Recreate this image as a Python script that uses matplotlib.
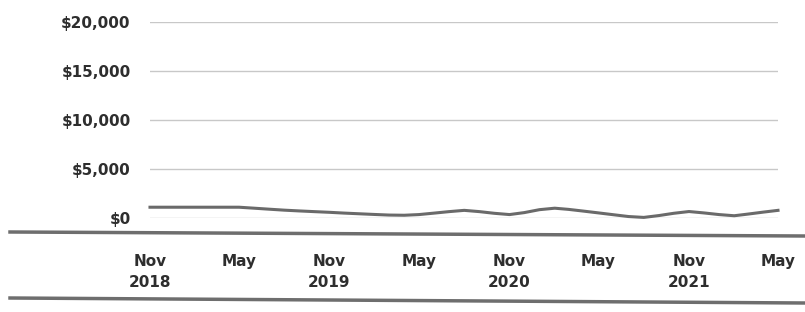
import matplotlib
matplotlib.use("Agg")
import matplotlib.pyplot as plt
from matplotlib.lines import Line2D
import pandas as pd

# Monthly dates Nov 2018 .. May 2022
dates = pd.date_range("2018-11-01", periods=43, freq="MS")
values = [1100, 1100, 1100, 1100, 1100, 1100, 1100, 1000, 900, 800, 720, 650,
          580, 500, 430, 360, 300, 280, 350, 500, 650, 780, 650, 480,
          350, 550, 850, 1000, 880, 700, 520, 330, 150, 60, 250, 480,
          660, 520, 350, 230, 400, 600, 780]

tick_dates = ["2018-11-01", "2019-05-01", "2019-11-01", "2020-05-01",
              "2020-11-01", "2021-05-01", "2021-11-01", "2022-05-01"]
tick_labels = ["Nov\n2018", "May", "Nov\n2019", "May",
               "Nov\n2020", "May", "Nov\n2021", "May"]
y_ticks = [0, 5000, 10000, 15000, 20000]
y_labels = ["$0", "$5,000", "$10,000", "$15,000", "$20,000"]

fig = plt.figure(figsize=(8.05, 3.12), dpi=100)
ax = fig.add_axes([150/805, (312-218)/312, (778-150)/805, (218-22)/312])

ax.plot(dates, values, color="#6a6a6a", lw=2.2, clip_on=False, zorder=3)

ax.set_ylim(0, 20000)
ax.set_xlim(dates[0], dates[-1])
ax.set_yticks(y_ticks)
ax.set_yticklabels(y_labels)
ax.set_xticks(pd.to_datetime(tick_dates))
ax.set_xticklabels(tick_labels, linespacing=1.45)

ax.grid(axis="y", color="#c8c8c8", lw=1)
ax.grid(axis="x", visible=False)
ax.set_axisbelow(True)
for s in ax.spines.values():
    s.set_visible(False)
ax.tick_params(axis="both", length=0)
ax.tick_params(axis="y", pad=14)
ax.tick_params(axis="x", pad=26)
for lab in ax.get_yticklabels() + ax.get_xticklabels():
    lab.set_fontfamily("DejaVu Sans")
    lab.set_fontweight("bold")
    lab.set_fontsize(11)
    lab.set_color("#2e2e2e")

# horizontal rules
fig.add_artist(Line2D([10/805, 1.0], [(312-232)/312, (312-236)/312],
                      transform=fig.transFigure, color="#6e6e6e", lw=2.5))
fig.add_artist(Line2D([10/805, 1.0], [(312-298)/312, (312-303)/312],
                      transform=fig.transFigure, color="#6e6e6e", lw=2.5))

fig.savefig("out.png", dpi=100, facecolor="white")
